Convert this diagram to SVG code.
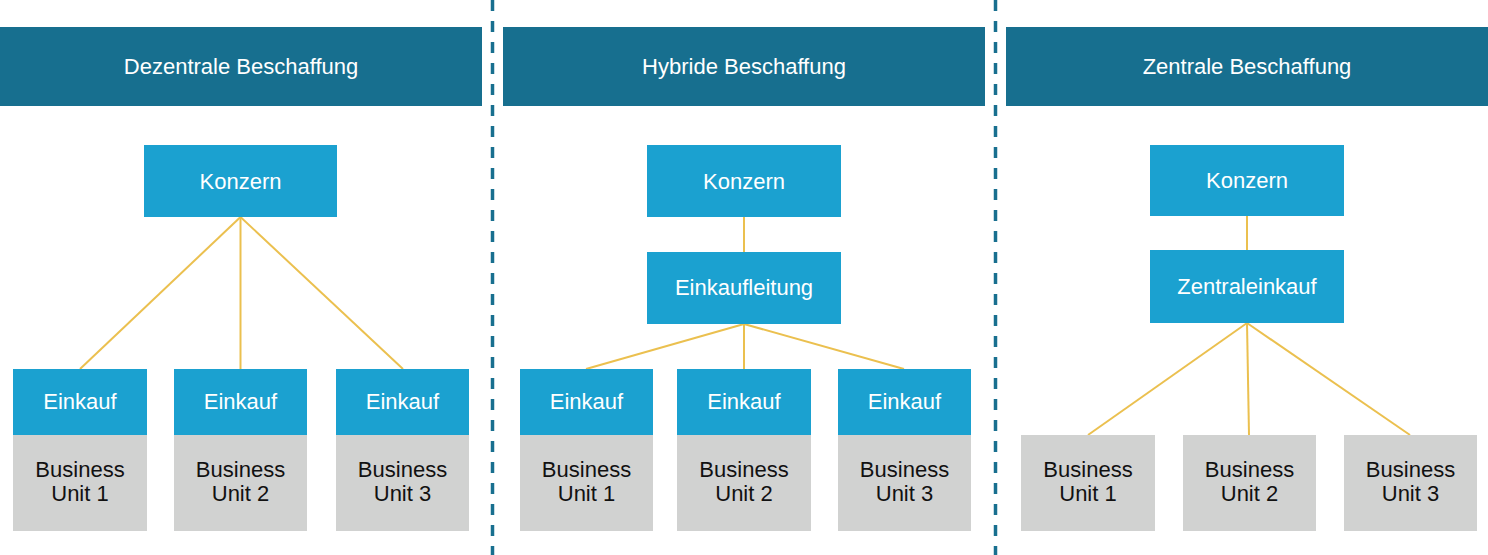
<svg xmlns="http://www.w3.org/2000/svg" width="1488" height="555" viewBox="0 0 1488 555">
<style>
.hdr{fill:#176f8f}
.blue{fill:#1ba1d0}
.gray{fill:#d1d2d1}
.t{font-family:"Liberation Sans",Arial,sans-serif;font-size:22px;text-anchor:middle}
.w{fill:#ffffff}
.k{fill:#111111}
.c{stroke:#ebc04f;stroke-width:2;fill:none}
.div{stroke:#186f8f;stroke-width:3.5;stroke-dasharray:11 10;fill:none}
</style>
<rect width="1488" height="555" fill="#ffffff"/>
<g id="dividers">
<line class="div" x1="492.5" y1="0" x2="492.5" y2="555"/>
<line class="div" x1="995.5" y1="0" x2="995.5" y2="555"/>
</g>
<g id="connectors">
<line class="c" x1="240.5" y1="217" x2="80" y2="369"/>
<line class="c" x1="240.5" y1="217" x2="240.5" y2="369"/>
<line class="c" x1="240.5" y1="217" x2="403" y2="369"/>
<line class="c" x1="744" y1="217" x2="744" y2="252"/>
<line class="c" x1="744" y1="324" x2="586" y2="369"/>
<line class="c" x1="744" y1="324" x2="744" y2="369"/>
<line class="c" x1="744" y1="324" x2="904" y2="369"/>
<line class="c" x1="1247" y1="216" x2="1247" y2="250"/>
<line class="c" x1="1247" y1="323" x2="1088" y2="435"/>
<line class="c" x1="1247" y1="323" x2="1249" y2="435"/>
<line class="c" x1="1247" y1="323" x2="1410" y2="435"/>
</g>
<g id="header1"><rect class="hdr" x="0" y="27" width="482" height="79"/><text class="t w" x="241" y="74">Dezentrale Beschaffung</text></g>
<g id="header2"><rect class="hdr" x="503" y="27" width="482" height="79"/><text class="t w" x="744" y="74">Hybride Beschaffung</text></g>
<g id="header3"><rect class="hdr" x="1006" y="27" width="482" height="79"/><text class="t w" x="1247" y="74">Zentrale Beschaffung</text></g>

<g id="p1-konzern"><rect class="blue" x="144" y="145" width="193" height="72"/><text class="t w" x="240.5" y="189">Konzern</text></g>
<g id="p1-einkauf1"><rect class="blue" x="13" y="369" width="134" height="66"/><text class="t w" x="80" y="409">Einkauf</text></g>
<g id="p1-einkauf2"><rect class="blue" x="174" y="369" width="133" height="66"/><text class="t w" x="240.5" y="409">Einkauf</text></g>
<g id="p1-einkauf3"><rect class="blue" x="336" y="369" width="133" height="66"/><text class="t w" x="402.5" y="409">Einkauf</text></g>
<g id="p1-bu1"><rect class="gray" x="13" y="435" width="134" height="96"/><text class="t k" x="80" y="477">Business</text><text class="t k" x="80" y="501">Unit 1</text></g>
<g id="p1-bu2"><rect class="gray" x="174" y="435" width="133" height="96"/><text class="t k" x="240.5" y="477">Business</text><text class="t k" x="240.5" y="501">Unit 2</text></g>
<g id="p1-bu3"><rect class="gray" x="336" y="435" width="133" height="96"/><text class="t k" x="402.5" y="477">Business</text><text class="t k" x="402.5" y="501">Unit 3</text></g>

<g id="p2-konzern"><rect class="blue" x="647" y="145" width="194" height="72"/><text class="t w" x="744" y="189">Konzern</text></g>
<g id="p2-einkaufleitung"><rect class="blue" x="647" y="252" width="194" height="72"/><text class="t w" x="744" y="295">Einkaufleitung</text></g>
<g id="p2-einkauf1"><rect class="blue" x="520" y="369" width="133" height="66"/><text class="t w" x="586.5" y="409">Einkauf</text></g>
<g id="p2-einkauf2"><rect class="blue" x="677" y="369" width="134" height="66"/><text class="t w" x="744" y="409">Einkauf</text></g>
<g id="p2-einkauf3"><rect class="blue" x="838" y="369" width="133" height="66"/><text class="t w" x="904.5" y="409">Einkauf</text></g>
<g id="p2-bu1"><rect class="gray" x="520" y="435" width="133" height="96"/><text class="t k" x="586.5" y="477">Business</text><text class="t k" x="586.5" y="501">Unit 1</text></g>
<g id="p2-bu2"><rect class="gray" x="677" y="435" width="134" height="96"/><text class="t k" x="744" y="477">Business</text><text class="t k" x="744" y="501">Unit 2</text></g>
<g id="p2-bu3"><rect class="gray" x="838" y="435" width="133" height="96"/><text class="t k" x="904.5" y="477">Business</text><text class="t k" x="904.5" y="501">Unit 3</text></g>

<g id="p3-konzern"><rect class="blue" x="1150" y="145" width="194" height="71"/><text class="t w" x="1247" y="188">Konzern</text></g>
<g id="p3-zentraleinkauf"><rect class="blue" x="1150" y="250" width="194" height="73"/><text class="t w" x="1247" y="294">Zentraleinkauf</text></g>
<g id="p3-bu1"><rect class="gray" x="1021" y="435" width="134" height="96"/><text class="t k" x="1088" y="477">Business</text><text class="t k" x="1088" y="501">Unit 1</text></g>
<g id="p3-bu2"><rect class="gray" x="1183" y="435" width="133" height="96"/><text class="t k" x="1249.5" y="477">Business</text><text class="t k" x="1249.5" y="501">Unit 2</text></g>
<g id="p3-bu3"><rect class="gray" x="1344" y="435" width="133" height="96"/><text class="t k" x="1410.5" y="477">Business</text><text class="t k" x="1410.5" y="501">Unit 3</text></g>
</svg>
